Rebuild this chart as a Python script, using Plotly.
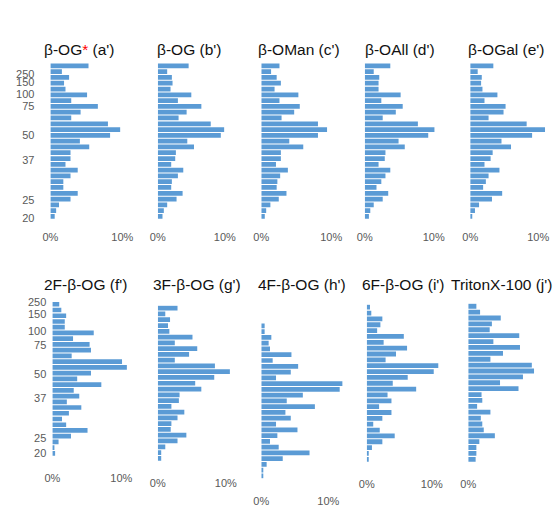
import plotly.graph_objects as go

W, H = 553, 532

# ---------------- data (percent of total, top bar first) ----------------
titles = ["β-OG<span style='color:#ff0000'>*</span> (a')", "β-OG (b')", "β-OMan (c')", "β-OAll (d')", "β-OGal (e')",
          "2F-β-OG (f')", "3F-β-OG (g')", "4F-β-OG (h')", "6F-β-OG (i')", "TritonX-100 (j')"]

vals_a = [5.3, 1.6, 2.6, 1.9, 2.1, 5.1, 2.9, 6.6, 4.2, 2.9, 8.0, 9.7, 8.3, 4.1, 5.4, 2.8, 2.8, 2.1, 3.8, 2.8, 1.8, 1.8, 3.8, 2.8, 1.2, 0.8, 0.6]
vals_b = [4.6, 1.4, 2.1, 2.2, 1.9, 5.0, 3.0, 6.5, 4.3, 3.1, 7.9, 9.9, 9.4, 4.4, 5.4, 2.7, 2.6, 2.0, 3.8, 3.0, 2.1, 2.0, 3.7, 2.8, 1.4, 0.9, 0.7]
vals_c = [2.6, 1.4, 2.2, 2.8, 1.9, 5.3, 2.6, 5.5, 4.7, 2.9, 8.1, 9.4, 8.1, 4.0, 6.0, 2.8, 2.8, 2.1, 3.8, 2.7, 2.3, 2.2, 3.6, 2.5, 1.3, 0.7, 0.5]
vals_d = [3.7, 1.3, 2.1, 2.0, 2.0, 5.2, 2.4, 5.5, 4.5, 2.6, 7.7, 10.1, 9.2, 4.9, 5.8, 3.0, 2.9, 2.0, 3.7, 3.0, 2.4, 1.7, 3.4, 2.6, 1.3, 0.8, 0.6]
vals_e = [3.4, 1.1, 1.7, 1.6, 1.8, 4.0, 2.1, 5.2, 4.9, 2.7, 8.3, 11.0, 9.1, 4.6, 6.0, 3.3, 3.0, 2.1, 4.3, 2.7, 2.3, 1.9, 4.7, 3.2, 1.3, 0.7, 0.3]
vals_f = [1.0, 1.3, 2.0, 1.8, 1.8, 6.0, 3.0, 5.4, 5.6, 2.8, 10.1, 10.8, 5.6, 3.6, 7.1, 3.1, 3.9, 2.1, 4.2, 2.4, 1.4, 2.0, 5.1, 2.7, 0.9, 0.3, 0.4]
vals_g = [2.9, 1.1, 1.8, 1.5, 1.7, 5.1, 2.5, 5.8, 4.6, 2.5, 8.4, 10.6, 8.3, 5.5, 6.4, 3.2, 3.1, 2.0, 3.9, 2.9, 2.0, 1.9, 4.2, 2.9, 1.1, 0.5, 0.5]
vals_h = [0.5, 0.5, 1.5, 1.1, 1.3, 4.5, 1.7, 5.5, 4.4, 2.2, 12.1, 11.7, 6.2, 3.8, 8.0, 3.6, 4.4, 2.2, 5.4, 2.4, 1.3, 2.6, 7.2, 3.2, 0.8, 0.3, 0.3]
vals_i = [0.5, 0.7, 2.4, 2.1, 1.6, 5.7, 2.6, 6.2, 4.5, 2.9, 11.0, 10.3, 6.3, 4.0, 7.6, 3.2, 3.8, 1.9, 3.8, 2.4, 1.0, 2.0, 4.3, 2.4, 0.8, 0.2, 0.2]
vals_j = [1.1, 1.6, 4.4, 3.2, 2.9, 6.9, 3.4, 7.0, 4.7, 3.0, 8.6, 8.9, 7.4, 4.3, 6.8, 1.8, 1.9, 1.2, 3.0, 1.7, 1.9, 2.1, 3.6, 1.5, 1.1, 1.1, 1.0]

mw_labels = ["250", "150", "100", "75", "50", "37", "25", "20"]
mw_pos_top = [1.4, 2.9, 4.9, 7.0, 12.0, 16.2, 23.1, 26.3]
mw_pos_bottom = [-0.3, 1.8, 4.6, 7.2, 12.1, 16.4, 23.4, 26.0]

x_tick_vals = [0, 10]
x_tick_text = ["0%", "10%"]

all_vals = [vals_a, vals_b, vals_c, vals_d, vals_e, vals_f, vals_g, vals_h, vals_i, vals_j]

# ---------------- layout geometry (pixels) ----------------
geom = [
    dict(x0=43, s=7.3, yf=62, yl=215.5, tx=36, ty=45, sd=10),
    dict(x0=152, s=6.8, yf=62, yl=215.5, tx=150, ty=45, sd=10),
    dict(x0=257, s=7.1, yf=62, yl=215.5, tx=253, ty=45, sd=10),
    dict(x0=362, s=7.0, yf=62, yl=215.5, tx=361, ty=45, sd=10),
    dict(x0=469, s=6.9, yf=62, yl=215.5, tx=466, ty=45, sd=10),
    dict(x0=45, s=7.0, yf=305, yl=457, tx=36, ty=285, sd=14),
    dict(x0=152, s=6.9, yf=309, yl=462, tx=146, ty=285, sd=14),
    dict(x0=257, s=6.8, yf=327, yl=480, tx=253, ty=285, sd=14),
    dict(x0=364, s=6.6, yf=308, yl=463, tx=358, ty=285, sd=14),
    dict(x0=467, s=7.5, yf=307, yl=463, tx=448, ty=285, sd=14),
]

FONT = "Liberation Sans, Arial, sans-serif"
BAR = "#5B9BD5"
GREY = "#595959"

fig = go.Figure()
layout = dict(width=W, height=H, margin=dict(l=0, r=0, t=0, b=0),
              paper_bgcolor="white", plot_bgcolor="white", showlegend=False,
              bargap=0.18, annotations=[])

n = len(vals_a)
for k, (vals, g) in enumerate(zip(all_vals, geom)):
    idx = k + 1
    xa = "x" if idx == 1 else f"x{idx}"
    ya = "y" if idx == 1 else f"y{idx}"
    fig.add_trace(go.Bar(x=vals, y=list(range(len(vals))), orientation="h",
                         marker=dict(color=BAR, line=dict(width=0)),
                         xaxis=xa, yaxis=ya, hoverinfo="x"))
    R = min(13.0, (552 - g["x0"]) / g["s"])
    xd = [g["x0"] / W, (g["x0"] + R * g["s"]) / W]
    step = (g["yl"] - g["yf"]) / (n - 1)
    top_px = g["yf"] - step / 2
    bot_px = g["yl"] + step / 2
    yd = [1 - bot_px / H, 1 - top_px / H]
    xkey = "xaxis" if idx == 1 else f"xaxis{idx}"
    ykey = "yaxis" if idx == 1 else f"yaxis{idx}"
    layout[xkey] = dict(domain=xd, range=[0, R], anchor=ya, showgrid=False, zeroline=False,
                        showline=False, tickvals=x_tick_vals, ticktext=x_tick_text,
                        tickfont=dict(family=FONT, size=11, color=GREY),
                        ticks="", ticklabelstandoff=g["sd"], fixedrange=True)
    yax = dict(domain=yd, range=[n - 0.5, -0.5], anchor=xa, showgrid=False, zeroline=False,
               showline=False, ticks="", fixedrange=True)
    if k == 0:
        yax.update(tickvals=mw_pos_top, ticktext=mw_labels, showticklabels=True,
                   tickfont=dict(family=FONT, size=11, color=GREY), ticklabelstandoff=15)
    elif k == 5:
        yax.update(tickvals=mw_pos_bottom, ticktext=mw_labels, showticklabels=True,
                   tickfont=dict(family=FONT, size=11, color=GREY), ticklabelstandoff=5)
    else:
        yax.update(showticklabels=False)
    layout[ykey] = yax
    layout["annotations"].append(dict(text=titles[k], x=g["tx"] / W, y=1 - g["ty"] / H,
                                      xref="paper", yref="paper", xanchor="left", yanchor="middle",
                                      showarrow=False, borderpad=0,
                                      font=dict(family=FONT, size=15.5, color="#111111")))

fig.update_layout(**layout)
fig.write_html("out.html", config={"displayModeBar": False},
               post_script="document.body.style.margin='0';")
